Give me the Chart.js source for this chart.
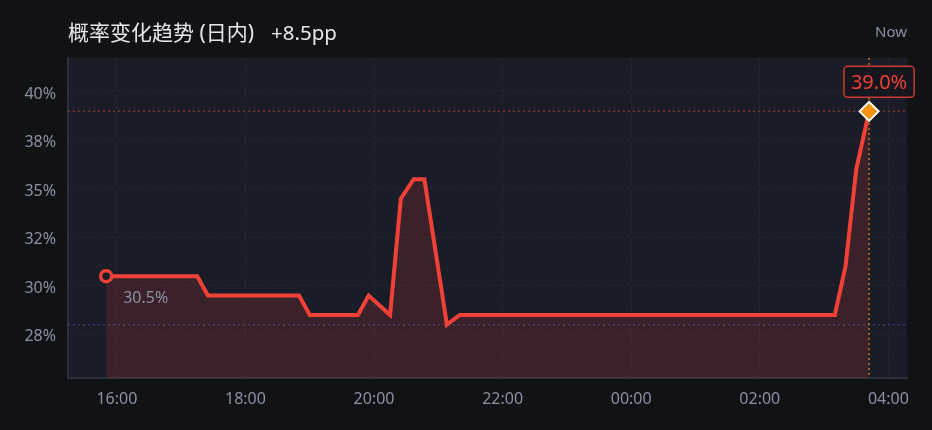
<!DOCTYPE html>
<html><head><meta charset="utf-8">
<script src="https://cdn.jsdelivr.net/npm/chart.js@4.4.1/dist/chart.umd.min.js"></script>
<style>
html,body{margin:0;padding:0;background:#111216;width:932px;height:430px;overflow:hidden;}
#wrap{position:relative;width:932px;height:430px;}
canvas{position:absolute;left:0;top:0;}
#title{position:absolute;left:68px;top:19px;font-family:"Noto Sans","Noto Sans CJK SC",sans-serif;font-size:21px;line-height:26px;color:#e6e7eb;white-space:nowrap;}
#title .chg{margin-left:17px;font-size:20.5px;}
#now{position:absolute;right:25px;top:21px;font-family:"Noto Sans",sans-serif;font-size:15px;line-height:20px;color:#8a8fa0;}
</style></head>
<body>
<div id="wrap">
<canvas id="c" width="932" height="430"></canvas>
<div id="title">概率变化趋势 (日内)<span class="chg">+8.5pp</span></div>
<div id="now">Now</div>
</div>
<script>
// ---- data ----
const times  = ['15:50','17:15','17:25','18:50','19:00','19:45','19:55','20:15','20:25','20:37','20:47','21:08','21:20','03:10','03:20','03:30','03:42'];
const values = [30.5, 30.5, 29.5, 29.5, 28.5, 28.5, 29.5, 28.5, 34.5, 35.5, 35.5, 28.0, 28.5, 28.5, 31.0, 36.0, 39.0];
const xTickTimes  = ['16:00','18:00','20:00','22:00','00:00','02:00','04:00'];
const yTickValues = [27.5, 30, 32.5, 35, 37.5, 40];
const yTickLabels = ['28%','30%','32%','35%','38%','40%'];
const startLabel = '30.5%';
const endLabel   = '39.0%';
const lowValue   = 28.0;

// hours after 16:00 (times after midnight belong to the next day)
function toHours(s){
  const p = s.split(':').map(Number);
  let v = p[0] + p[1]/60 - 16;
  if (v < -8) v += 24;
  return v;
}
const points = times.map((t,i)=>({x:toHours(t), y:values[i]}));
const xTickValues = xTickTimes.map(toHours);
const last = points.length - 1;

const RED = '#ef4136', ORANGE = '#f5940c', PLOT_BG = '#1a1c28';
const TICK_COLOR = '#8c90a2';

const decor = {
  id:'decor',
  beforeDraw(chart){
    const {ctx, chartArea:a} = chart;
    ctx.save();
    ctx.fillStyle = PLOT_BG;
    ctx.fillRect(a.left, a.top, a.right-a.left, a.bottom-a.top);
    ctx.restore();
  },
  beforeDatasetsDraw(chart){
    const {ctx, chartArea:a, scales} = chart;
    const yEnd = scales.y.getPixelForValue(values[last]);
    const yLow = scales.y.getPixelForValue(lowValue);
    const xEnd = scales.x.getPixelForValue(points[last].x);
    ctx.save();
    ctx.lineWidth = 1.5;
    ctx.setLineDash([2,3]);
    ctx.strokeStyle = 'rgba(239,65,54,0.5)';
    ctx.beginPath(); ctx.moveTo(a.left, yEnd); ctx.lineTo(a.right, yEnd); ctx.stroke();
    ctx.strokeStyle = 'rgba(80,100,190,0.5)';
    ctx.beginPath(); ctx.moveTo(a.left, yLow); ctx.lineTo(a.right, yLow); ctx.stroke();
    ctx.strokeStyle = 'rgba(230,130,10,0.85)';
    ctx.beginPath(); ctx.moveTo(xEnd, a.top); ctx.lineTo(xEnd, a.bottom); ctx.stroke();
    ctx.restore();
  },
  afterDatasetsDraw(chart){
    const {ctx} = chart;
    const meta = chart.getDatasetMeta(0);
    const p0 = meta.data[0], pN = meta.data[last];
    ctx.save();
    // start label
    ctx.font = '16px "Noto Sans"';
    ctx.fillStyle = TICK_COLOR;
    ctx.textAlign = 'left';
    ctx.textBaseline = 'middle';
    ctx.fillText(startLabel, p0.x + 17, p0.y + 22);
    // end label box
    ctx.font = '20px "Noto Sans"';
    const tw = ctx.measureText(endLabel).width;
    const bw = tw + 14, bh = 31;
    const cx = pN.x + 10, by = pN.y - 14 - bh;
    const bx = cx - bw/2;
    ctx.beginPath();
    ctx.roundRect(bx, by, bw, bh, 4);
    ctx.fillStyle = 'rgba(22,22,30,0.95)';
    ctx.fill();
    ctx.lineWidth = 1.5;
    ctx.strokeStyle = 'rgba(239,65,54,0.85)';
    ctx.stroke();
    ctx.fillStyle = RED;
    ctx.textAlign = 'center';
    ctx.fillText(endLabel, cx, by + bh/2 + 1);
    ctx.restore();
  }
};

const isEnd = c => c.dataIndex === last;
const isStart = c => c.dataIndex === 0;

new Chart(document.getElementById('c'), {
  type:'line',
  data:{datasets:[{
    data: points,
    borderColor: RED,
    borderWidth: 4,
    tension: 0,
    fill: 'start',
    backgroundColor: 'rgba(239,65,54,0.15)',
    pointRadius: c => isStart(c) ? 5.5 : (isEnd(c) ? 9.5 : 0),
    pointHoverRadius: c => isStart(c) ? 5.5 : (isEnd(c) ? 9.5 : 0),
    pointStyle: c => isEnd(c) ? 'rectRot' : 'circle',
    pointBackgroundColor: c => isEnd(c) ? ORANGE : PLOT_BG,
    pointBorderColor: c => isEnd(c) ? '#ffffff' : RED,
    pointBorderWidth: c => isEnd(c) ? 2 : 3.5
  }]},
  options:{
    responsive:false,
    animation:false,
    layout:{padding:{top:58,right:25,left:0,bottom:0}},
    plugins:{legend:{display:false},tooltip:{enabled:false}},
    scales:{
      x:{
        type:'linear', min:-0.76, max:12.29,
        afterBuildTicks: s => { s.ticks = xTickValues.map(v=>({value:v})); },
        afterFit: s => { s.height = 52; },
        ticks:{callback:(v,i)=>xTickTimes[i], color:TICK_COLOR, font:{family:'Noto Sans',size:16}, padding:12, maxRotation:0, autoSkip:false},
        grid:{color:'rgba(255,255,255,0.05)', drawTicks:false},
        border:{display:true, color:'#2c2f3d', width:2, dash:[3,3]}
      },
      y:{
        min:25.25, max:41.75,
        afterBuildTicks: s => { s.ticks = yTickValues.map(v=>({value:v})); },
        afterFit: s => { s.width = 68; },
        ticks:{callback:(v,i)=>yTickLabels[i], color:TICK_COLOR, font:{family:'Noto Sans',size:16}, padding:12, labelOffset:2.5},
        grid:{color:'rgba(255,255,255,0.05)', drawTicks:false},
        border:{display:true, color:'#2c2f3d', width:2, dash:[3,3]}
      }
    }
  },
  plugins:[decor]
});
</script>
</body></html>
